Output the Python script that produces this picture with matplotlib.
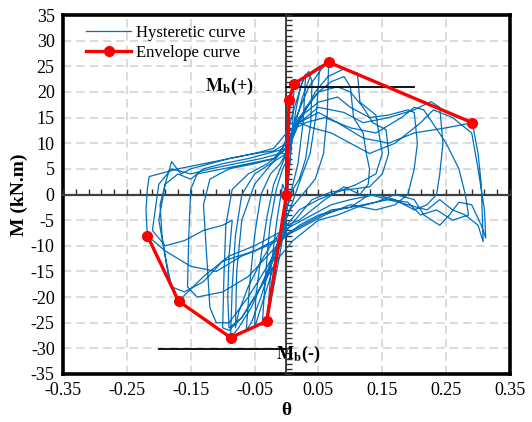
import numpy as np
import matplotlib
matplotlib.use("Agg")
import matplotlib.pyplot as plt

plt.rcParams['font.family'] = ['Liberation Serif', 'DejaVu Serif']
plt.rcParams['mathtext.fontset'] = 'stix'
plt.rcParams['axes.unicode_minus'] = False

# ---------------- data ----------------
c1_theta = [0, 0.002, 0.004, 0.008, 0.012, 0.009, 0.004, 0.0, -0.008, -0.02, -0.03, -0.024, -0.015, -0.006, 0.0]
c1_M = [0, 9, 18.4, 20.5, 21.6, 12, 4, -2, -10, -18, -24.5, -14, -5, 2, 0]

c2_theta = [0, 0.006, 0.014, 0.022, 0.03, 0.026, 0.018, 0.008, -0.002, -0.012, -0.022, -0.031, -0.038, -0.033, -0.026, -0.016, -0.006, 0.002]
c2_M = [0, 8, 16, 21, 23.5, 14, 6, 1, -4, -10, -17, -24.7, -25.5, -16, -6, 1, 5, 7]

c3_theta = [0.002, 0.01, 0.025, 0.04, 0.052, 0.047, 0.037, 0.022, 0.008, -0.005, -0.02, -0.04, -0.055, -0.063, -0.058, -0.05, -0.04, -0.025, -0.01, 0.004]
c3_M = [7, 12, 19, 24, 25, 16, 8, 3, -2, -6, -12, -20, -25, -26.5, -18, -8, 0, 4, 6, 9]

c4_theta = [0.004, 0.015, 0.035, 0.055, 0.066, 0.064, 0.058, 0.045, 0.025, 0.005, -0.01, -0.03, -0.055, -0.075, -0.0875, -0.085, -0.08, -0.07, -0.05, -0.025, 0.0]
c4_M = [9, 15, 21, 24.5, 25.8, 16, 8, 3, 0, -3, -8, -15, -22, -26, -27.9, -18, -8, 0, 4, 6, 8]

c5_theta = [0.0, 0.02, 0.045, 0.065, 0.09, 0.111, 0.115, 0.14, 0.15, 0.14, 0.11, 0.08, 0.05, 0.02, 0.0, -0.01, -0.04, -0.07, -0.09, -0.1, -0.098, -0.095, -0.085, -0.06, -0.03, 0.0]
c5_M = [8, 14, 20, 23, 24.5, 23.7, 18, 15.5, 8, 4, 2, 0.5, -1, -3, -6, -10, -18, -24, -26.5, -26, -16, -6, 1, 4, 6, 9]

c6_theta = [0.0, 0.02, 0.05, 0.08, 0.1, 0.12, 0.135, 0.156, 0.16, 0.15, 0.13, 0.1, 0.07, 0.04, 0.02, 0.0, -0.03, -0.06, -0.09, -0.11, -0.12, -0.125, -0.13, -0.12, -0.09, -0.05, -0.02, 0.0]
c6_M = [9, 15, 20, 21, 20, 17, 14, 12.6, 8, 4, 1.5, 1, 0.5, -1, -4, -7, -14, -20, -25, -25, -22, -12, -2, 3, 5, 6, 7, 10]

c7_theta = [0.0, 0.02, 0.05, 0.08, 0.1, 0.13, 0.16, 0.19, 0.2, 0.205, 0.2, 0.19, 0.17, 0.14, 0.1, 0.06, 0.03, 0.0, -0.03, -0.06, -0.1, -0.14, -0.155, -0.153, -0.15, -0.14, -0.1, -0.06, -0.02, 0.0]
c7_M = [10, 15, 18, 19, 17, 15, 15.5, 16.5, 16, 10, 5, 0, -2, -3, -2, -4, -6, -8, -12, -16, -19, -20, -18, -8, 1, 4, 5, 6, 7, 9]

c8_theta = [0.0, 0.02, 0.05, 0.09, 0.12, 0.16, 0.2, 0.226, 0.24, 0.245, 0.24, 0.235, 0.22, 0.2, 0.17, 0.14, 0.1, 0.07, 0.04, 0.01, -0.02, -0.05, -0.09, -0.13, -0.169, -0.185, -0.195, -0.198, -0.19, -0.18, -0.165, -0.15, -0.12, -0.09, -0.05, -0.02, 0.0]
c8_M = [9, 14, 17, 16, 14, 15, 16.5, 18.1, 17, 10, 4, 0, -2, -3, -1, 0, -1, -2, -4, -6, -8, -10, -12, -16, -20.8, -16, -8, -2, 2, 6.4, 4, 5, 6, 7, 8, 8.5, 10]

c9_theta = [0.0, 0.02, 0.05, 0.08, 0.12, 0.16, 0.2, 0.25, 0.291, 0.3, 0.305, 0.308, 0.3, 0.28, 0.26, 0.24, 0.22, 0.19, 0.16, 0.12, 0.08, 0.05, 0.02, 0.0, -0.03, -0.07, -0.11, -0.15, -0.19, -0.218, -0.22, -0.218, -0.215, -0.2, -0.17, -0.13, -0.09, -0.05, -0.02, 0.0, 0.02]
c9_M = [10, 14, 16, 14, 11, 10, 12, 13, 14, 8, 2, -9.2, -6, -4, -3, -1, -3, -2, -1, -2, -3, -4, -6, -8, -10, -12, -15, -14, -11, -8, -3, 1, 3.5, 4, 5, 6, 7, 8, 9, 12, 14]

c10_theta = [0.02, 0.04, 0.07, 0.1, 0.13, 0.17, 0.21, 0.23, 0.26, 0.29, 0.3, 0.31, 0.312, 0.305, 0.29, 0.27, 0.255, 0.24, 0.215, 0.2, 0.17, 0.14, 0.11, 0.08, 0.05, 0.03, 0.01, -0.01, -0.03, -0.05, -0.07, -0.09, -0.092, -0.09, -0.085, -0.1, -0.13, -0.16, -0.19, -0.21, -0.2, -0.18, -0.15, -0.12, -0.08, -0.04, -0.01, 0.0]
c10_M = [14, 13, 12, 10, 8, 10, 14, 16.5, 15, 12, 5, -3, -8.5, -6, -2, -1.5, -4, -6, -4, -1, 0, -1.5, -2.5, -4, -5, -7, -9, -12, -16, -20, -24, -26, -20, -12, -5, -6, -7, -9, -10, -7, 2, 5, 4, 5, 6, 7, 8, 11]

c11_theta = [0.0, 0.01, 0.02, 0.028, 0.035, 0.04, 0.038, 0.03, 0.02, 0.01, 0.0, -0.01, -0.02, -0.035, -0.045, -0.05, -0.048, -0.04, -0.03, -0.02, -0.01, 0.0]
c11_M = [11, 16, 20, 23, 24, 22, 14, 7, 3, 1, -3, -8, -14, -20, -24, -26, -20, -12, -4, 2, 5, 8]

c12_theta = [0.0, 0.015, 0.03, 0.05, 0.07, 0.09, 0.1, 0.105, 0.12, 0.125, 0.13, 0.128, 0.115, 0.09, 0.06, 0.04, 0.02, 0.0, -0.02, -0.04, -0.06, -0.075, -0.08, -0.078, -0.07, -0.05, -0.03, -0.01]
c12_M = [10, 13, 17, 20, 22, 23, 21, 15, 12, 8, 5, 2, 0, 1.5, -1, -3, -5, -6, -9, -13, -18, -23, -26, -15, -5, 2, 5, 8]

c13_theta = [0.0, 0.03, 0.06, 0.1, 0.14, 0.18, 0.2, 0.215, 0.25, 0.27, 0.28, 0.285, 0.26, 0.235, 0.21, 0.19, 0.16, 0.13, 0.1, 0.07, 0.04, 0.01, -0.02, -0.05, -0.1, -0.13, -0.16, -0.18, -0.19, -0.2, -0.19, -0.17, -0.15, -0.13, -0.1, -0.06]
c13_M = [12, 14, 15, 13, 12, 15, 17, 16.5, 10, 5, 0, -4, -5, -3, -4, -1.5, -1, 0, -2.5, -3, -5, -7, -9, -11, -13, -17, -19, -18, -12, -5, 2, 4, 3, 5, 6, 7]

hyst_theta = (c1_theta + c2_theta + c11_theta + c3_theta + c4_theta + c12_theta
              + c5_theta + c6_theta + c7_theta + c13_theta + c8_theta + c9_theta
              + c10_theta)
hyst_M = (c1_M + c2_M + c11_M + c3_M + c4_M + c12_M + c5_M + c6_M + c7_M
          + c13_M + c8_M + c9_M + c10_M)

env_theta = [-0.218, -0.169, -0.0875, -0.031, 0.0, 0.004, 0.012, 0.066, 0.291]
env_M = [-8.0, -20.8, -27.9, -24.7, 0.0, 18.4, 21.6, 25.8, 14.0]

mb_pos_theta = [0.0, 0.2]
mb_pos_M = [21.0, 21.0]
mb_neg_theta = [-0.2, 0.0]
mb_neg_M = [-30.2, -30.2]

x_ticks = np.round(np.arange(-0.35, 0.351, 0.1), 2)
y_ticks = np.arange(-35, 36, 5)

# ---------------- figure ----------------
fig = plt.figure(figsize=(5.32, 4.22), dpi=100)
pos = [63 / 532, 48 / 422, 447 / 532, 359 / 422]
ax = fig.add_axes(pos)
ax.set_xlim(-0.35, 0.35)
ax.set_ylim(-35, 35)
ax.set_xticks(x_ticks)
ax.set_xticklabels([f"{v:.2f}" for v in x_ticks])
ax.set_yticks(y_ticks)
ax.tick_params(length=0, labelsize=13, pad=6)
for s in ax.spines.values():
    s.set_linewidth(2.6)
    s.set_color('black')
    s.set_zorder(6)
ax.grid(True, color='#d4d4d4', linestyle=(0, (5, 3)), linewidth=1.2)
ax.set_axisbelow(True)
ax.set_xlabel('θ', fontsize=14, fontweight='bold', labelpad=2)
ax.set_ylabel('M (kN.m)', fontsize=14, fontweight='bold', labelpad=2)

# overlay axes with spines through zero
ax2 = fig.add_axes(pos)
ax2.set_xlim(-0.35, 0.35)
ax2.set_ylim(-35, 35)
ax2.patch.set_visible(False)
ax2.spines['top'].set_visible(False)
ax2.spines['right'].set_visible(False)
ax2.spines['left'].set_position(('data', 0))
ax2.spines['bottom'].set_position(('data', 0))
ax2.spines['left'].set_color('#303030')
ax2.spines['bottom'].set_color('#404040')
ax2.spines['left'].set_linewidth(1.3)
ax2.spines['bottom'].set_linewidth(1.6)
ax2.set_xticks(np.arange(-0.35, 0.351, 0.02))
ax2.set_yticks(np.arange(-35, 36, 1))
ax2.tick_params(direction='in', length=4, width=1, color='#303030',
                labelbottom=False, labelleft=False)

ax2.plot(hyst_theta, hyst_M, color='#0070C0', linewidth=0.9, zorder=3,
         label='Hysteretic curve')
ax2.plot(env_theta, env_M, color='#FF0000', linewidth=2.4, marker='o',
         markersize=7, zorder=5, label='Envelope curve')
ax2.plot(mb_pos_theta, mb_pos_M, color='black', linewidth=1.3, zorder=4)
ax2.plot(mb_neg_theta, mb_neg_M, color='black', linewidth=1.3, zorder=4)

ax2.text(-0.052, 21, r'$\mathbf{M_b}$(+)', fontsize=13, fontweight='bold',
         ha='right', va='center', zorder=7)
ax2.text(-0.016, -31.2, r'$\mathbf{M_b}$(-)', fontsize=13, fontweight='bold',
         ha='left', va='center', zorder=7)

ax2.legend(loc='upper left', frameon=False, fontsize=12, handlelength=2.7,
           handletextpad=0.3, borderaxespad=0.2, labelspacing=0.25,
           bbox_to_anchor=(0.03, 1.0))

fig.savefig('out.png', dpi=100)
